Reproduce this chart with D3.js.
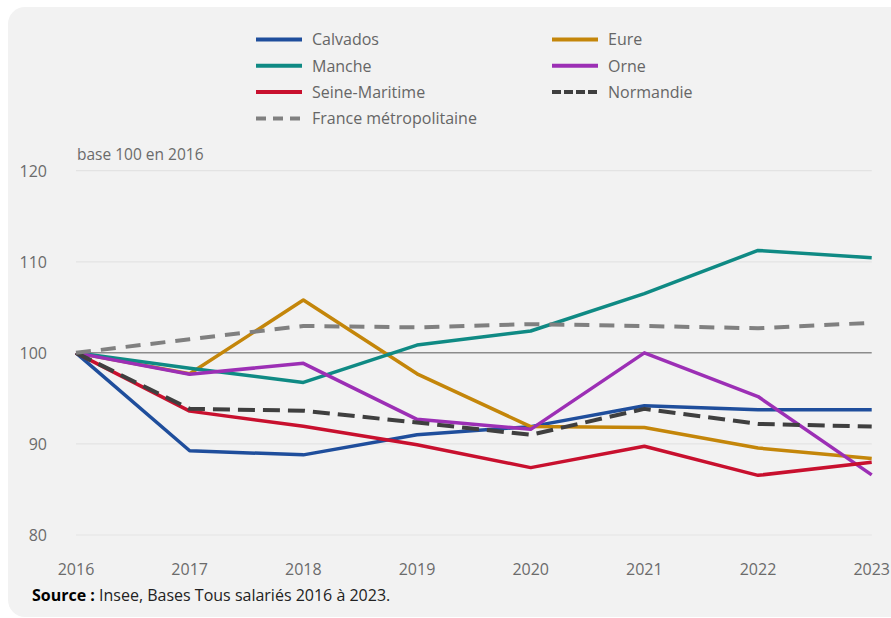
<!DOCTYPE html>
<html>
<head>
<meta charset="utf-8">
<script src="https://cdn.jsdelivr.net/npm/d3@7"></script>
<style>
  body { margin:0; background:#fff; }
  svg { display:block; font-family:"Open Sans", sans-serif; }
</style>
</head>
<body>
<div id="chart"></div>
<script>
var years = [2016, 2017, 2018, 2019, 2020, 2021, 2022, 2023];
var yTicks = [80, 90, 100, 110, 120];

var calvados = [100, 89.25, 88.8, 91.0, 91.9, 94.2, 93.75, 93.75];
var eure = [100, 97.7, 105.8, 97.7, 91.9, 91.8, 89.55, 88.4];
var manche = [100, 98.3, 96.75, 100.85, 102.4, 106.5, 111.25, 110.45];
var orne = [100, 97.65, 98.85, 92.7, 91.6, 100.0, 95.2, 86.6];
var seineMaritime = [100, 93.6, 91.95, 89.9, 87.4, 89.75, 86.55, 88.0];
var normandie = [100, 93.85, 93.65, 92.35, 91.0, 93.85, 92.2, 91.9];
var france = [100, 101.5, 102.95, 102.8, 103.15, 102.95, 102.7, 103.3];

var series = [
  {name:'Calvados', values:calvados, color:'#1f4e9c', dash:null, legDash:null},
  {name:'Eure', values:eure, color:'#c4860a', dash:null, legDash:null},
  {name:'Manche', values:manche, color:'#0f8a84', dash:null, legDash:null},
  {name:'Orne', values:orne, color:'#9c2fb5', dash:null, legDash:null},
  {name:'Seine-Maritime', values:seineMaritime, color:'#c8102e', dash:null, legDash:null},
  {name:'Normandie', values:normandie, color:'#3f3f3f', dash:'17,8', legDash:'9,3'},
  {name:'France métropolitaine', values:france, color:'#808080', dash:'15,10', legDash:'10,7'}
];

var width = 891, height = 618;
var x0 = 76, x1 = 871.7, yTop = 170.7, yBot = 535;

var svg = d3.select('#chart').append('svg')
  .attr('width', width)
  .attr('height', height);

// card background
svg.append('rect')
  .attr('x', 8).attr('y', 7)
  .attr('width', width + 20).attr('height', height - 7 - 1)
  .attr('rx', 17).attr('ry', 17)
  .attr('fill', '#f2f2f2');

var x = d3.scaleLinear().domain([2016, 2023]).range([x0, x1]);
var y = d3.scaleLinear().domain([80, 120]).range([yBot, yTop]);

// gridlines
svg.append('g').selectAll('line')
  .data(yTicks)
  .enter().append('line')
  .attr('x1', x0).attr('x2', x1)
  .attr('y1', function(d){ return y(d) })
  .attr('y2', function(d){ return y(d) })
  .attr('stroke', function(d){ return d === 100 ? '#8c8c8c' : '#e3e3e3' })
  .attr('stroke-width', function(d){ return d === 100 ? 1.5 : 1.2 });

// y tick labels
svg.append('g').selectAll('text')
  .data(yTicks)
  .enter().append('text')
  .attr('x', 47)
  .attr('y', function(d){ return y(d) + 2 })
  .attr('text-anchor', 'end')
  .attr('dominant-baseline', 'middle')
  .attr('font-size', '16px')
  .attr('fill', '#6b6b6b')
  .text(function(d){ return d });

// x tick labels
svg.append('g').selectAll('text')
  .data(years)
  .enter().append('text')
  .attr('x', function(d){ return x(d) })
  .attr('y', 571)
  .attr('text-anchor', 'middle')
  .attr('dominant-baseline', 'middle')
  .attr('font-size', '16px')
  .attr('fill', '#6b6b6b')
  .text(function(d){ return d });

svg.append('text')
  .attr('x', 77).attr('y', 156)
  .attr('dominant-baseline', 'middle')
  .attr('font-size', '15.5px')
  .attr('fill', '#6b6b6b')
  .text('base 100 en 2016');

// lines
var line = d3.line()
  .x(function(d, i){ return x(years[i]) })
  .y(function(d){ return y(d) });

svg.append('g').selectAll('path')
  .data(series)
  .enter().append('path')
  .attr('d', function(d){ return line(d.values) })
  .attr('fill', 'none')
  .attr('stroke', function(d){ return d.color })
  .attr('stroke-width', function(d){ return d.dash ? 4 : 3.5 })
  .attr('stroke-dasharray', function(d){ return d.dash })
  .attr('stroke-linejoin', 'round');

// legend
var legendX = [256, 552], legendY0 = 39.5, legendStep = 26.3;
var leg = svg.append('g').selectAll('g')
  .data(series)
  .enter().append('g')
  .attr('transform', function(d, i){
    var col = i === 6 ? 0 : i % 2;
    var row = i === 6 ? 3 : Math.floor(i / 2);
    return 'translate(' + legendX[col] + ',' + (legendY0 + row * legendStep) + ')';
  });

leg.append('line')
  .attr('x1', 0).attr('x2', 46)
  .attr('y1', 0).attr('y2', 0)
  .attr('stroke', function(d){ return d.color })
  .attr('stroke-width', 4)
  .attr('stroke-dasharray', function(d){ return d.legDash });

leg.append('text')
  .attr('x', 56).attr('y', 1.5)
  .attr('dominant-baseline', 'middle')
  .attr('font-size', '16px')
  .attr('fill', '#666')
  .text(function(d){ return d.name });

// source
var src = svg.append('text')
  .attr('x', 32).attr('y', 597)
  .attr('dominant-baseline', 'middle')
  .attr('font-size', '16px')
  .attr('fill', '#222');
src.append('tspan').attr('font-weight', 'bold').attr('fill', '#000').text('Source :');
src.append('tspan').text(' Insee, Bases Tous salariés 2016 à 2023.');
</script>
</body>
</html>
